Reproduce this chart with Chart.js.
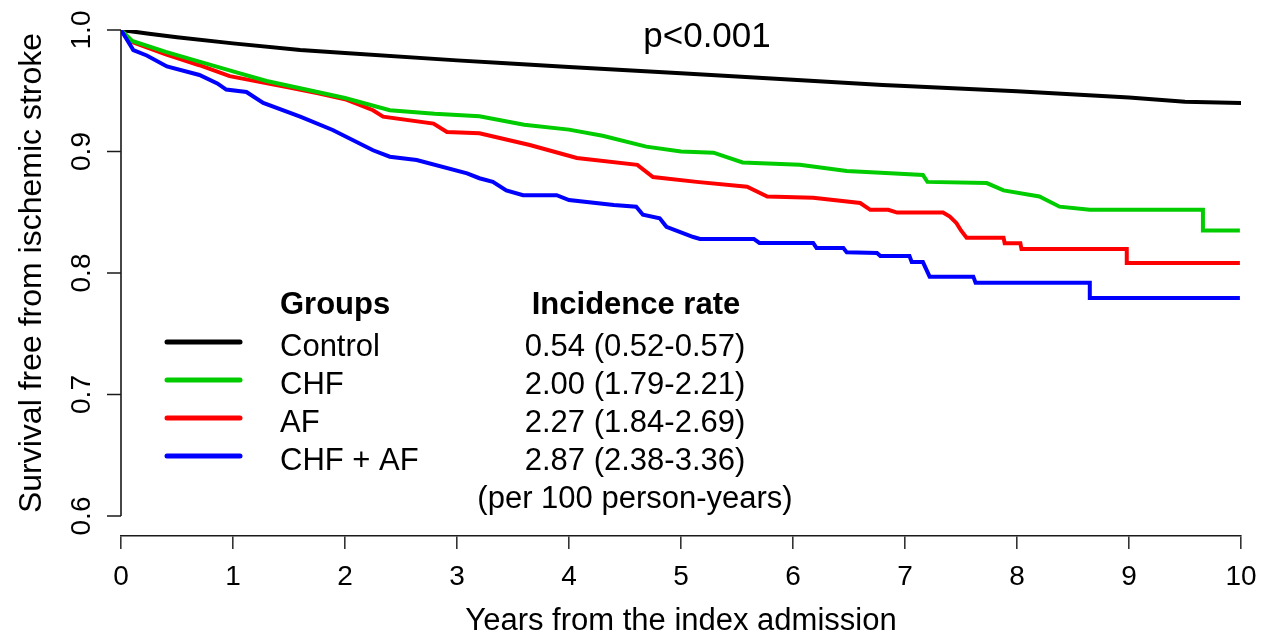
<!DOCTYPE html>
<html>
<head>
<meta charset="utf-8">
<script src="https://cdn.jsdelivr.net/npm/chart.js@4.4.1/dist/chart.umd.min.js"></script>
<style>
  html, body { margin: 0; padding: 0; background: #fff; }
</style>
</head>
<body>
<canvas id="strokeChart" width="1281" height="637"></canvas>
<script>
// Kaplan-Meier estimates: [years, survival free from ischemic stroke]
const controlSurv = [[0,1.0],[0.25,0.997],[0.5,0.994],[1,0.989],[1.6,0.9835],[2,0.981],[3,0.975],[3.4,0.9728],
  [4,0.9695],[5,0.9645],[6,0.959],[6.8,0.9547],[7,0.954],[8,0.9495],[9,0.9445],[9.5,0.941],[10,0.940]];

const chfSurv = [[0,1.0],[0.1,0.991],[0.4,0.982],[0.7,0.974],[1.0,0.966],[1.3,0.958],[1.6,0.952],[2.0,0.944],
  [2.4,0.934],[2.8,0.931],[3.2,0.929],[3.6,0.922],[4.0,0.918],[4.3,0.913],[4.69,0.904],[5.0,0.900],[5.29,0.899],
  [5.55,0.891],[6.06,0.889],[6.48,0.884],[6.87,0.882],[7.16,0.8807],[7.2,0.875],[7.73,0.874],[7.88,0.868],
  [8.2,0.863],[8.38,0.8546],[8.65,0.852],[9.66,0.852],[9.66,0.835],[9.99,0.835]];

const afSurv = [[0,1.0],[0.1,0.990],[0.4,0.980],[0.7,0.971],[0.97,0.962],[1.48,0.953],[1.76,0.948],[2.0,0.943],
  [2.25,0.934],[2.34,0.9287],[2.79,0.923],[2.91,0.916],[3.2,0.915],[3.65,0.9053],[4.07,0.8947],[4.61,0.889],
  [4.75,0.879],[5.14,0.875],[5.59,0.871],[5.77,0.863],[6.18,0.862],[6.6,0.8576],[6.69,0.852],[6.85,0.852],
  [6.93,0.8497],[7.34,0.8497],[7.40,0.8464],[7.46,0.841],[7.50,0.835],[7.55,0.829],[7.88,0.829],[7.89,0.8245],
  [8.03,0.8245],[8.04,0.8197],[8.98,0.8197],[8.98,0.8082],[9.99,0.8082]];

const chfAfSurv = [[0,1.0],[0.11,0.9835],[0.23,0.979],[0.41,0.970],[0.7,0.963],[0.86,0.956],[0.94,0.951],
  [1.12,0.949],[1.27,0.940],[1.6,0.9287],[1.89,0.9177],[2.25,0.901],[2.4,0.8957],[2.64,0.893],[3.09,0.882],
  [3.2,0.878],[3.32,0.875],[3.44,0.868],[3.59,0.864],[3.89,0.864],[4.0,0.860],[4.4,0.856],[4.6,0.8546],
  [4.66,0.848],[4.81,0.845],[4.87,0.838],[5.11,0.8296],[5.17,0.828],[5.65,0.828],[5.7,0.8247],[6.18,0.8247],
  [6.21,0.8206],[6.45,0.8206],[6.48,0.817],[6.75,0.8165],[6.78,0.814],[7.04,0.814],[7.06,0.809],[7.16,0.809],
  [7.22,0.797],[7.61,0.797],[7.63,0.792],[8.65,0.792],[8.65,0.7794],[9.99,0.7794]];

const groups = ['Control', 'CHF', 'AF', 'CHF + AF'];
const incidence = ['0.54 (0.52-0.57)', '2.00 (1.79-2.21)', '2.27 (1.84-2.69)', '2.87 (2.38-3.36)'];
const incidenceUnit = '(per 100 person-years)';
const pValue = 'p<0.001';
const yTicks = [0.6, 0.7, 0.8, 0.9, 1.0];
const yTickLabels = ['0.6', '0.7', '0.8', '0.9', '1.0'];

const curves = [controlSurv, chfSurv, afSurv, chfAfSurv];
const colors = ['#000000', '#00cc00', '#ff0000', '#0000ff'];
const drawOrder = [3, 1, 2, 0]; // blue on top, then green, red, black

const FONT = "'Liberation Sans', Arial, Helvetica, sans-serif";
Chart.defaults.font.family = FONT;
Chart.defaults.color = '#000';

// y axis, p value and the two-column legend, drawn R style
const rStylePlugin = {
  id: 'rStyle',
  afterDraw(chart) {
    const ctx = chart.ctx;
    const y = chart.scales.y;
    const left = chart.chartArea.left;
    ctx.save();
    ctx.strokeStyle = '#1a1a1a';
    ctx.lineWidth = 1.6;
    ctx.beginPath();
    ctx.moveTo(left, y.getPixelForValue(yTicks[0]));
    ctx.lineTo(left, y.getPixelForValue(yTicks[yTicks.length - 1]));
    yTicks.forEach(v => {
      const py = y.getPixelForValue(v);
      ctx.moveTo(left, py);
      ctx.lineTo(left - 14, py);
    });
    ctx.stroke();

    ctx.fillStyle = '#000';
    ctx.textAlign = 'center';
    ctx.textBaseline = 'alphabetic';
    ctx.font = '28px ' + FONT;
    yTicks.forEach((v, i) => {
      ctx.save();
      ctx.translate(left - 31, y.getPixelForValue(v));
      ctx.rotate(-Math.PI / 2);
      ctx.fillText(yTickLabels[i], 0, 0);
      ctx.restore();
    });

    ctx.font = '32px ' + FONT;
    ctx.save();
    ctx.translate(41, (y.getPixelForValue(0.6) + y.getPixelForValue(1.0)) / 2);
    ctx.rotate(-Math.PI / 2);
    ctx.fillText('Survival free from ischemic stroke', 0, 0);
    ctx.restore();

    ctx.font = '35px ' + FONT;
    ctx.fillText(pValue, 707, 47);

    // legend
    ctx.font = 'bold 31px ' + FONT;
    ctx.textAlign = 'left';
    ctx.fillText('Groups', 280, 314);
    ctx.textAlign = 'center';
    ctx.fillText('Incidence rate', 636, 314);

    ctx.font = '31px ' + FONT;
    ctx.lineCap = 'round';
    ctx.lineWidth = 5;
    groups.forEach((g, i) => {
      const base = 356 + 38 * i;
      ctx.strokeStyle = colors[i];
      ctx.beginPath();
      ctx.moveTo(167, base - 14);
      ctx.lineTo(240, base - 14);
      ctx.stroke();
      ctx.textAlign = 'left';
      ctx.fillText(g, 280, base);
      ctx.textAlign = 'center';
      ctx.fillText(incidence[i], 635, base);
    });
    ctx.fillText(incidenceUnit, 635, 356 + 38 * 4);
    ctx.restore();
  }
};

new Chart(document.getElementById('strokeChart'), {
  type: 'line',
  data: {
    datasets: curves.map((c, i) => ({
      label: groups[i],
      data: c.map(p => ({x: p[0], y: p[1]})),
      borderColor: colors[i],
      borderWidth: 4,
      pointRadius: 0,
      fill: false,
      tension: 0,
      order: drawOrder[i]
    }))
  },
  options: {
    responsive: false,
    animation: false,
    devicePixelRatio: 1,
    layout: { padding: { left: 121, top: 30, right: 40, bottom: 0 } },
    plugins: { legend: { display: false }, tooltip: { enabled: false } },
    scales: {
      x: {
        type: 'linear', min: 0, max: 10,
        afterFit(scale) { scale.height = 101; },
        ticks: { stepSize: 1, padding: 11, font: { size: 28 }, color: '#000', maxRotation: 0 },
        grid: { drawOnChartArea: false, drawTicks: true, tickLength: 13, color: '#333', lineWidth: 1.6 },
        border: { display: true, color: '#1a1a1a', width: 1.6 },
        title: { display: true, text: 'Years from the index admission', font: { size: 31, lineHeight: 1.0 }, padding: { top: 0, bottom: 0 }, color: '#000' }
      },
      y: {
        type: 'linear', display: false,
        min: 0.6 - 20 / 1215, max: 1.0
      }
    }
  },
  plugins: [rStylePlugin]
});
</script>
</body>
</html>
